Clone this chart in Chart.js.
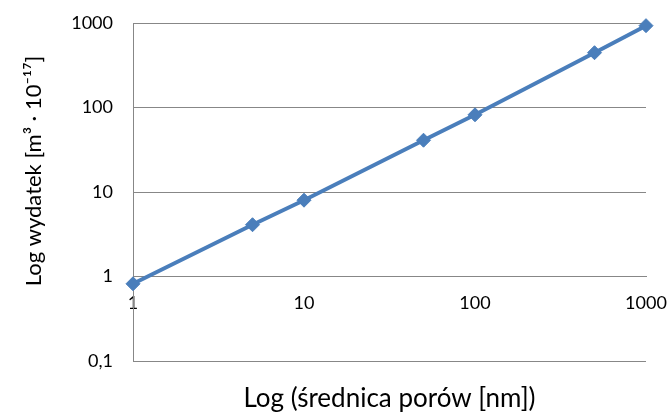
<!DOCTYPE html>
<html>
<head>
<meta charset="utf-8">
<script src="https://cdn.jsdelivr.net/npm/chart.js@4/dist/chart.umd.min.js"></script>
<style>
  html, body { margin: 0; padding: 0; background: #ffffff; }
  #wrap { width: 670px; height: 414px; }
</style>
</head>
<body>
<div id="wrap"><canvas id="c" width="670" height="414"></canvas></div>
<script>
// ---- data ----
const poreDiameters = [1, 5, 10, 50, 100, 500, 1000];
const flowValues = [0.82, 4.1, 8.0, 41, 82, 445, 930];
const xTickValues = [1, 10, 100, 1000];
const xTickLabels = ['1', '10', '100', '1000'];
const yTickValues = [0.1, 1, 10, 100, 1000];
const yTickLabels = ['0,1', '1', '10', '100', '1000'];
const xTitle = 'Log (średnica porów [nm])';
const yTitle = 'Log wydatek [m³ · 10⁻¹⁷]';

const points = poreDiameters.map((x, i) => ({ x: x, y: flowValues[i] }));
const FONT = 'Lato, "Open Sans", sans-serif';
const GRID = '#878787';
const BLUE = '#4A7EBB';

// y-axis title drawn rotated, slightly above the plot centre as in the reference
const yTitlePlugin = {
  id: 'yTitlePlugin',
  afterDraw(chart) {
    const ctx = chart.ctx;
    const area = chart.chartArea;
    ctx.save();
    ctx.translate(34, (area.top + area.bottom) / 2 - 21);
    ctx.rotate(-Math.PI / 2);
    ctx.font = '22px ' + FONT;
    ctx.fillStyle = '#000000';
    ctx.textAlign = 'center';
    ctx.textBaseline = 'middle';
    ctx.fillText(yTitle, 0, 0);
    ctx.restore();
  }
};

new Chart(document.getElementById('c'), {
  type: 'line',
  data: {
    datasets: [{
      data: points,
      borderColor: BLUE,
      backgroundColor: BLUE,
      borderWidth: 4,
      pointStyle: 'rectRot',
      pointRadius: 7,
      pointBorderWidth: 1,
      pointBackgroundColor: BLUE,
      pointBorderColor: BLUE,
      tension: 0,
      clip: false,
      xAxisID: 'x',
      yAxisID: 'y'
    }]
  },
  plugins: [yTitlePlugin],
  options: {
    responsive: false,
    animation: false,
    layout: { padding: { top: 23, right: 24, left: 0, bottom: 0 } },
    plugins: { legend: { display: false }, tooltip: { enabled: false } },
    scales: {
      x: {
        type: 'logarithmic',
        min: 1, max: 1000,
        position: { y: 1 },
        afterBuildTicks: (s) => { s.ticks = xTickValues.map(v => ({ value: v })); },
        afterFit: (s) => { s.paddingLeft = 0; s.paddingRight = 0; },
        grid: { display: false, drawTicks: false },
        border: { display: true, color: GRID, width: 1 },
        ticks: {
          autoSkip: false, maxRotation: 0, minRotation: 0,
          padding: 16,
          color: '#000000',
          font: { family: FONT, size: 18 },
          callback: (v) => { const i = xTickValues.indexOf(v); return i >= 0 ? xTickLabels[i] : ''; }
        }
      },
      x2: {
        type: 'linear',
        position: 'bottom',
        min: 0, max: 1,
        afterFit: (s) => { s.height = 53; s.paddingLeft = 0; s.paddingRight = 0; },
        grid: { display: false, drawTicks: false },
        border: { display: false },
        ticks: { display: false },
        title: {
          display: true,
          text: xTitle,
          color: '#000000',
          font: { family: FONT, size: 26 },
          padding: { top: 0, bottom: 0 }
        }
      },
      y: {
        type: 'logarithmic',
        position: 'left',
        min: 0.1, max: 1000,
        afterFit: (s) => { s.width = 133; s.paddingTop = 0; s.paddingBottom = 0; },
        afterBuildTicks: (s) => { s.ticks = yTickValues.map(v => ({ value: v })); },
        grid: { display: true, color: GRID, lineWidth: 1, drawTicks: false },
        border: { display: true, color: GRID, width: 1 },
        ticks: {
          autoSkip: false,
          padding: 20,
          color: '#000000',
          font: { family: FONT, size: 18 },
          callback: (v) => { const i = yTickValues.indexOf(v); return i >= 0 ? yTickLabels[i] : ''; }
        },
        title: { display: false }
      }
    }
  }
});
</script>
</body>
</html>
